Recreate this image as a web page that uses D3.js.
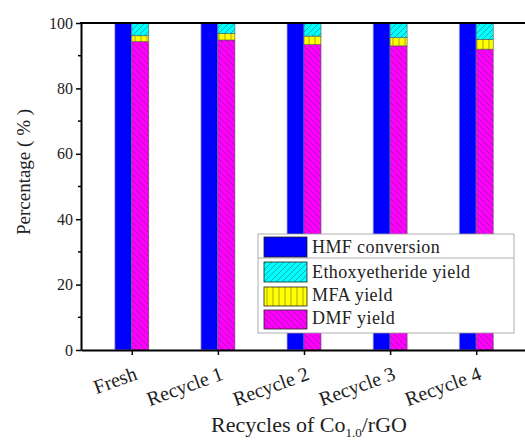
<!DOCTYPE html>
<html>
<head>
<meta charset="utf-8">
<script src="https://cdn.jsdelivr.net/npm/d3@7"></script>
<style>
  body { margin: 0; background: #fff; }
  svg text { font-family: "Liberation Serif", "Times New Roman", serif; fill: #222; }
</style>
</head>
<body>
<svg id="chart" width="525" height="441"></svg>
<script>
// ######## data
var categories = ["Fresh", "Recycle 1", "Recycle 2", "Recycle 3", "Recycle 4"];
var hmfConversion = [100, 100, 100, 100, 100];
var dmfYield = [94.3, 94.8, 93.4, 93.0, 92.0];
var mfaYield = [1.8, 2.0, 2.6, 2.5, 3.0];
var ethoxyYield = [3.9, 3.2, 4.0, 4.5, 5.0];
var yTicks = [0, 20, 40, 60, 80, 100];

var svg = d3.select("#chart");

// plot area (don't use "top", it's window.top)
var plotLeft = 81, plotRight = 527, plotTop = 23, plotBottom = 350;

var x = d3.scaleLinear().domain([-0.59, 4.59]).range([plotLeft, plotRight]);
var y = d3.scaleLinear().domain([0, 100]).range([plotBottom, plotTop]);
var barW = 17;

// ######## hatch patterns
var defs = svg.append("defs");
function hatch(id, fill, path) {
    var p = defs.append("pattern")
        .attr("id", id)
        .attr("patternUnits", "userSpaceOnUse")
        .attr("width", 6).attr("height", 6);
    p.append("rect").attr("width", 6).attr("height", 6).attr("fill", fill);
    p.append("path").attr("d", path)
        .attr("stroke", "#333").attr("stroke-width", 0.6).attr("opacity", 0.7);
}
hatch("cyanHatch", "#00ffff", "M0,6 L6,0 M-1,1 L1,-1 M5,7 L7,5");
hatch("yellowHatch", "#ffff00", "M3,0 L3,6");
hatch("pinkHatch", "#ff00ff", "M0,0 L6,6 M-1,5 L1,7 M5,-1 L7,1");

// ######## bars
var g = svg.append("g");

// HMF conversion, left of the tick
g.selectAll(".hmf")
    .data(hmfConversion)
    .enter().append("rect")
    .attr("class", "hmf")
    .attr("x", function(d, i) { return x(i) - barW; })
    .attr("y", function(d) { return y(d); })
    .attr("width", barW)
    .attr("height", function(d) { return y(0) - y(d); })
    .attr("fill", "#0000ff")
    .attr("stroke", "#b8b8c8").attr("stroke-width", 0.8);

// stacked yields, right of the tick
var stackRows = categories.map(function(c, i) {
    return { dmf: dmfYield[i], mfa: mfaYield[i], eth: ethoxyYield[i] };
});
var series = d3.stack().keys(["dmf", "mfa", "eth"])(stackRows);
var fills = { dmf: "url(#pinkHatch)", mfa: "url(#yellowHatch)", eth: "url(#cyanHatch)" };

series.forEach(function(s) {
    g.selectAll(".seg-" + s.key)
        .data(s)
        .enter().append("rect")
        .attr("class", "seg-" + s.key)
        .attr("x", function(d, i) { return x(i); })
        .attr("y", function(d) { return y(d[1]); })
        .attr("width", barW)
        .attr("height", function(d) { return y(d[0]) - y(d[1]); })
        .attr("fill", fills[s.key])
        .attr("stroke", "#555").attr("stroke-width", 0.6);
});

// ######## axes
var yAxis = d3.axisLeft(y).tickValues(yTicks).tickSize(5).tickPadding(3).tickSizeOuter(0);
var yg = svg.append("g").attr("transform", "translate(" + plotLeft + ",0)").call(yAxis);
yg.select(".domain").attr("stroke-width", 2);
yg.selectAll(".tick line").attr("stroke-width", 1.5);
yg.selectAll(".tick text").attr("font-size", 16).attr("font-family", "Liberation Serif");

// minor ticks
svg.append("g").selectAll("line")
    .data([10, 30, 50, 70, 90])
    .enter().append("line")
    .attr("x1", plotLeft - 3).attr("x2", plotLeft)
    .attr("y1", function(d) { return y(d); })
    .attr("y2", function(d) { return y(d); })
    .attr("stroke", "#000").attr("stroke-width", 1.5);

var xAxis = d3.axisBottom(x).tickValues(d3.range(categories.length)).tickSize(5).tickSizeOuter(0)
    .tickFormat(function(i) { return categories[i]; });
var xg = svg.append("g").attr("transform", "translate(0," + plotBottom + ")").call(xAxis);
xg.select(".domain").attr("stroke-width", 2);
xg.selectAll(".tick line").attr("stroke-width", 1.5);
xg.selectAll(".tick text")
    .attr("font-size", 20).attr("font-family", "Liberation Serif")
    .attr("text-anchor", "end")
    .attr("y", 0).attr("dy", 0)
    .attr("transform", "translate(6,29) rotate(-20)");

// top frame line
svg.append("line")
    .attr("x1", plotLeft - 1).attr("x2", 525)
    .attr("y1", plotTop).attr("y2", plotTop)
    .attr("stroke", "#000").attr("stroke-width", 2);

// ######## titles
svg.append("text")
    .attr("transform", "translate(30,172) rotate(-90)")
    .attr("text-anchor", "middle")
    .attr("font-size", 19)
    .text("Percentage ( % )");

var xt = svg.append("text")
    .attr("x", 309).attr("y", 432)
    .attr("text-anchor", "middle")
    .attr("font-size", 22);
xt.append("tspan").text("Recycles of Co");
xt.append("tspan").attr("font-size", 13).attr("dy", 5).text("1.0");
xt.append("tspan").attr("dy", -5).text("/rGO");

// ######## legend
var lg = svg.append("g");
lg.append("rect")
    .attr("x", 258).attr("y", 234).attr("width", 256).attr("height", 99)
    .attr("fill", "#fff").attr("stroke", "#999").attr("stroke-width", 0.8);
lg.append("line")
    .attr("x1", 258).attr("x2", 514).attr("y1", 258).attr("y2", 258)
    .attr("stroke", "#999").attr("stroke-width", 0.8);

var legendItems = [
    { label: "HMF conversion", fill: "#0000ff", y: 237, h: 20, base: 253 },
    { label: "Ethoxyetheride yield", fill: "url(#cyanHatch)", y: 262, h: 20, base: 278 },
    { label: "MFA yield", fill: "url(#yellowHatch)", y: 287, h: 19, base: 301 },
    { label: "DMF yield", fill: "url(#pinkHatch)", y: 310, h: 19, base: 324 }
];
legendItems.forEach(function(it) {
    lg.append("rect")
        .attr("x", 264).attr("y", it.y).attr("width", 43).attr("height", it.h)
        .attr("fill", it.fill).attr("stroke", "#222").attr("stroke-width", 0.8);
    lg.append("text")
        .attr("x", 312).attr("y", it.base)
        .attr("font-size", 18)
        .attr("letter-spacing", 0.4)
        .text(it.label);
});
</script>
</body>
</html>
